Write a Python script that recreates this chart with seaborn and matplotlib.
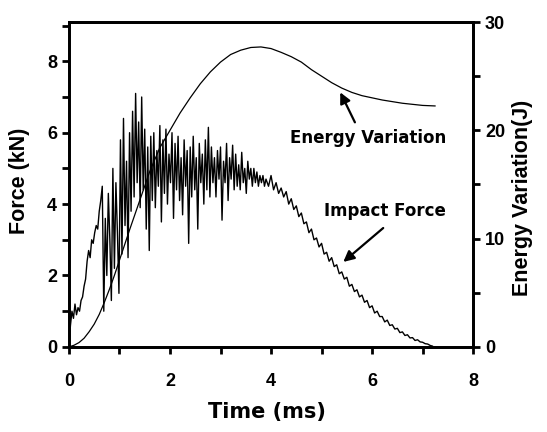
import numpy as np
import pandas as pd
import matplotlib
matplotlib.use("Agg")
import matplotlib.pyplot as plt
from matplotlib.ticker import MultipleLocator
import seaborn as sns

# ---- data ----
# rising part of the force trace (t = 0 .. 0.63 ms, every 0.03 ms)
force_rise = [0.0, 0.6, 1.0, 0.8, 1.2, 0.9, 1.1, 1.0, 1.3, 1.4, 1.7, 1.9,
              2.4, 2.7, 2.5, 3.0, 2.9, 3.2, 3.4, 3.3, 3.8, 4.1]
# noisy plateau (t = 0.66 .. 3.90 ms, every 0.03 ms)
force_noisy = [4.5, 1.0, 3.6, 2.0, 4.3, 3.0, 1.3, 5.0, 2.2, 4.6, 3.2, 1.5,
               5.8, 2.6, 6.4, 3.4, 5.2, 2.5, 6.0, 3.8, 6.6, 4.2, 7.1, 4.6,
               6.3, 3.9, 7.0, 4.4, 6.1, 3.3, 5.6, 2.7, 5.9, 4.1, 6.0, 3.9,
               5.5, 4.5, 6.2, 3.5, 5.8, 4.3, 6.1, 4.0, 5.4, 4.6, 6.0, 3.6,
               5.7, 4.4, 5.9, 4.1, 5.3, 3.7, 5.8, 4.5, 5.5, 2.9, 5.6, 4.2,
               5.9, 4.4, 5.3, 3.3, 5.7, 4.6, 5.4, 4.0, 5.8, 4.4, 6.15, 4.2,
               5.6, 4.6, 5.3, 4.2, 5.5, 4.7, 5.6, 3.55, 5.2, 4.6, 5.7, 4.1,
               5.3, 4.7, 5.65, 4.4, 5.4, 4.5, 5.1, 4.4, 5.45, 4.6, 5.0, 4.3,
               5.2, 4.7, 5.0, 4.5, 5.0, 4.6, 4.9, 4.5, 4.8, 4.6, 4.8, 4.5, 4.7]
# smooth decay (t = 3.95 .. 7.20 ms, every 0.05 ms)
force_decay = [4.5, 4.8, 4.4, 4.6, 4.3, 4.45, 4.2, 4.35, 4.0, 4.15, 3.85, 3.95,
               3.65, 3.75, 3.45, 3.5, 3.2, 3.3, 3.0, 3.05, 2.8, 2.9, 2.6, 2.65,
               2.4, 2.5, 2.25, 2.3, 2.05, 2.1, 1.9, 1.95, 1.7, 1.75, 1.55, 1.6,
               1.4, 1.45, 1.25, 1.3, 1.1, 1.15, 0.95, 1.0, 0.85, 0.85, 0.7, 0.75,
               0.6, 0.62, 0.5, 0.52, 0.4, 0.42, 0.32, 0.34, 0.25, 0.26, 0.18, 0.2,
               0.14, 0.13, 0.09, 0.08, 0.04, 0.02]

energy_time = [0, 0.1, 0.2, 0.3, 0.4, 0.5, 0.6, 0.7, 0.8, 0.9, 1.0, 1.2, 1.4,
               1.6, 1.8, 2.0, 2.2, 2.4, 2.6, 2.8, 3.0, 3.2, 3.4, 3.6, 3.8, 4.0,
               4.2, 4.4, 4.6, 4.8, 5.0, 5.2, 5.4, 5.6, 5.8, 6.0, 6.2, 6.4, 6.6,
               6.8, 7.0, 7.25]
energy_j = [0, 0.15, 0.4, 0.8, 1.4, 2.1, 3.0, 4.1, 5.3, 6.6, 8.0, 10.8, 13.5,
            16.2, 18.4, 20.0, 21.6, 23.0, 24.3, 25.4, 26.3, 27.0, 27.4, 27.65,
            27.7, 27.55, 27.2, 26.8, 26.3, 25.6, 25.0, 24.4, 23.9, 23.5, 23.2,
            23.0, 22.8, 22.65, 22.5, 22.4, 22.3, 22.25]

# sampling instants of the force record
t_rise = [round(0.03 * i, 3) for i in range(len(force_rise))]
t_noisy = [round(0.66 + 0.03 * i, 3) for i in range(len(force_noisy))]
t_decay = [round(3.95 + 0.05 * i, 3) for i in range(len(force_decay))]

force_df = pd.DataFrame({"t": t_rise + t_noisy + t_decay,
                         "F": force_rise + force_noisy + force_decay})
energy_df = pd.DataFrame({"t": energy_time, "E": energy_j})

sns.set_style("ticks")
plt.rcParams["font.family"] = ["Liberation Sans", "DejaVu Sans"]
plt.rcParams["font.weight"] = "bold"
for key in ("text.color", "axes.labelcolor", "xtick.color", "ytick.color",
            "axes.edgecolor"):
    plt.rcParams[key] = "black"
WIDE = ["DejaVu Sans"]

fig = plt.figure(figsize=(5.47, 4.32), dpi=100)
ax = fig.add_axes([0.126, 0.197, 0.739, 0.752])
ax2 = ax.twinx()

sns.lineplot(data=force_df, x="t", y="F", ax=ax, color="black", lw=1.0,
             sort=False, estimator=None)
sns.lineplot(data=energy_df, x="t", y="E", ax=ax2, color="black", lw=0.9,
             sort=False, estimator=None)

ax.set_xlim(0, 8)
ax.set_ylim(0, 9.1)
ax2.set_ylim(0, 30)

ax.xaxis.set_major_locator(MultipleLocator(2))
ax.xaxis.set_minor_locator(MultipleLocator(1))
ax.yaxis.set_major_locator(MultipleLocator(2))
ax.yaxis.set_minor_locator(MultipleLocator(1))
ax2.yaxis.set_major_locator(MultipleLocator(10))
ax2.yaxis.set_minor_locator(MultipleLocator(5))

for a in (ax, ax2):
    for s in a.spines.values():
        s.set_linewidth(2)
        s.set_color("black")
    a.tick_params(which="both", width=2, color="black", labelcolor="black",
                  labelsize=13, direction="out", length=5)
    for lbl in a.get_xticklabels() + a.get_yticklabels():
        lbl.set_fontweight("bold")

ax.tick_params(axis="x", pad=14)
ax.set_xlabel("Time (ms)", fontsize=15, fontweight="bold", family=WIDE,
              color="black")
ax.set_ylabel("Force (kN)", fontsize=15.5, fontweight="bold", color="black")
ax2.set_ylabel("Energy Variation(J)", fontsize=15.5, fontweight="bold",
               color="black")
ax.xaxis.set_label_coords(0.49, -0.17)
ax.yaxis.set_label_coords(-0.097, 0.51)
ax2.yaxis.set_label_coords(1.097, 0.46)

arrow = dict(arrowstyle="-|>", color="black", lw=1.6, shrinkA=0, shrinkB=0,
             mutation_scale=16)
ax.text(5.92, 5.85, "Energy Variation", ha="center", va="center",
        fontsize=12, fontweight="bold", family=WIDE, color="black")
ax.annotate("", xy=(5.37, 7.13), xytext=(5.66, 6.29), arrowprops=arrow)
ax.text(6.26, 3.8, "Impact Force", ha="center", va="center",
        fontsize=12, fontweight="bold", family=WIDE, color="black")
ax.annotate("", xy=(5.43, 2.38), xytext=(6.22, 3.33), arrowprops=arrow)

fig.savefig("out.png", dpi=100)
